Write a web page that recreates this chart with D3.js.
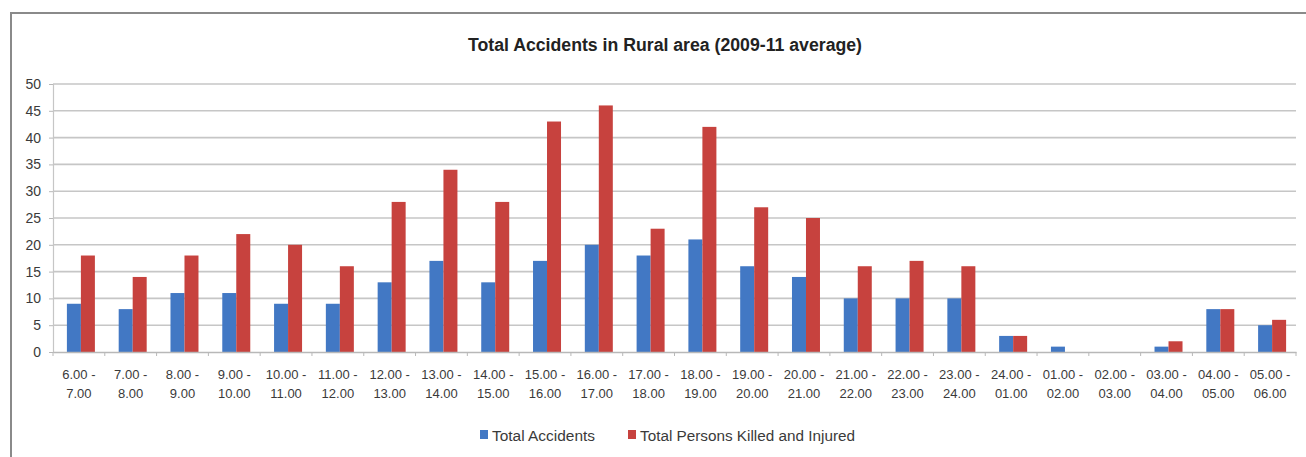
<!DOCTYPE html>
<html>
<head>
<meta charset="utf-8">
<script src="https://cdn.jsdelivr.net/npm/d3@7"></script>
<style>
  html, body { margin: 0; padding: 0; background: #ffffff; }
  svg { display: block; }
</style>
</head>
<body>
<svg id="chart" width="1306" height="457"></svg>
<script>
const title = "Total Accidents in Rural area (2009-11 average)";
const categories = [
  "6.00 - 7.00", "7.00 - 8.00", "8.00 - 9.00", "9.00 - 10.00", "10.00 - 11.00",
  "11.00 - 12.00", "12.00 - 13.00", "13.00 - 14.00", "14.00 - 15.00", "15.00 - 16.00",
  "16.00 - 17.00", "17.00 - 18.00", "18.00 - 19.00", "19.00 - 20.00", "20.00 - 21.00",
  "21.00 - 22.00", "22.00 - 23.00", "23.00 - 24.00", "24.00 - 01.00", "01.00 - 02.00",
  "02.00 - 03.00", "03.00 - 04.00", "04.00 - 05.00", "05.00 - 06.00"
];
const seriesNames = ["Total Accidents", "Total Persons Killed and Injured"];
const totalAccidents = [9, 8, 11, 11, 9, 9, 13, 17, 13, 17, 20, 18, 21, 16, 14, 10, 10, 10, 3, 1, 0, 1, 8, 5];
const totalKilledInjured = [18, 14, 18, 22, 20, 16, 28, 34, 28, 43, 46, 23, 42, 27, 25, 16, 17, 16, 3, 0, 0, 2, 8, 6];
const yTicks = [0, 5, 10, 15, 20, 25, 30, 35, 40, 45, 50];
const colors = ["#4278c4", "#c7423e"];

(function () {
const svg = d3.select("#chart");
const font = "'Liberation Sans Narrow', 'Arial Narrow', 'Liberation Sans', sans-serif";

// outer frame (top and left borders)
svg.append("line").attr("x1", 10).attr("x2", 1306).attr("y1", 13).attr("y2", 13)
  .attr("stroke", "#8a8a8a").attr("stroke-width", 2);
svg.append("line").attr("x1", 11).attr("x2", 11).attr("y1", 13).attr("y2", 457)
  .attr("stroke", "#8a8a8a").attr("stroke-width", 2);

const mLeft = 53, mRight = 1296, mTop = 84, mBottom = 352;

const x0 = d3.scaleBand().domain(categories).range([mLeft, mRight]).paddingInner(0).paddingOuter(0);
const x1 = d3.scaleBand().domain(seriesNames).range([0, x0.bandwidth()]).paddingInner(0).paddingOuter(0.85);
const y = d3.scaleLinear().domain([0, 50]).range([mBottom, mTop]);

// gridlines
svg.append("g").selectAll("line").data(yTicks.filter(d => d > 0)).join("line")
  .attr("x1", mLeft).attr("x2", mRight)
  .attr("y1", d => y(d)).attr("y2", d => y(d))
  .attr("stroke", "#c6c6c6").attr("stroke-width", 1.6);

// y axis
const yAxis = d3.axisLeft(y).tickValues(yTicks).tickSize(4).tickPadding(8);
const gy = svg.append("g").attr("transform", `translate(${mLeft},0)`).call(yAxis);
gy.select(".domain").attr("stroke", "#c6c6c6").attr("stroke-width", 1.2);
gy.selectAll(".tick line").attr("stroke", "#b8b8b8");
gy.selectAll(".tick text").attr("font-family", font).attr("font-size", 14).attr("fill", "#3a3a3a");

// bars
const data = categories.map((c, i) => ({ cat: c, vals: [totalAccidents[i], totalKilledInjured[i]] }));
const groups = svg.append("g").selectAll("g").data(data).join("g")
  .attr("transform", d => `translate(${x0(d.cat) + 2},0)`);
groups.selectAll("rect").data(d => d.vals.map((v, k) => ({ v, k }))).join("rect")
  .attr("x", d => x1(seriesNames[d.k]))
  .attr("width", x1.bandwidth())
  .attr("y", d => y(d.v))
  .attr("height", d => y(0) - y(d.v))
  .attr("fill", d => colors[d.k]);

// x axis
const xAxis = d3.axisBottom(x0).tickSize(0).tickFormat("");
const gx = svg.append("g").attr("transform", `translate(0,${mBottom})`).call(xAxis);
gx.select(".domain").attr("stroke", "#b8b8b8").attr("stroke-width", 1.4);
// tick marks at category boundaries
svg.append("g").selectAll("line").data(categories.concat(["__end"])).join("line")
  .attr("x1", (d, i) => mLeft + i * x0.step())
  .attr("x2", (d, i) => mLeft + i * x0.step())
  .attr("y1", mBottom).attr("y2", mBottom + 4)
  .attr("stroke", "#b8b8b8");

// x labels (two lines)
const lbl = svg.append("g").selectAll("text").data(categories).join("text")
  .attr("text-anchor", "middle")
  .attr("font-family", font).attr("font-size", 13).attr("fill", "#3a3a3a")
  .attr("transform", d => `translate(${x0(d) + x0.bandwidth() / 2},0)`);
lbl.append("tspan").attr("x", 0).attr("y", 379).text(d => d.split(" - ")[0] + " -");
lbl.append("tspan").attr("x", 0).attr("y", 398).text(d => d.split(" - ")[1]);

// title
svg.append("text").attr("x", 665).attr("y", 51).attr("text-anchor", "middle")
  .attr("font-family", font).attr("font-weight", "bold").attr("font-size", 18)
  .attr("fill", "#222").attr("textLength", 394).attr("lengthAdjust", "spacingAndGlyphs")
  .text(title);

// legend
const legendX = [480, 628];
const legendW = [103, 215];
const lg = svg.append("g").selectAll("g").data(seriesNames).join("g")
  .attr("transform", (d, i) => `translate(${legendX[i]},0)`);
lg.append("rect").attr("x", 0).attr("y", 430).attr("width", 8).attr("height", 9)
  .attr("fill", (d, i) => colors[i]);
lg.append("text").attr("x", 12).attr("y", 441)
  .attr("font-family", font).attr("font-size", 14).attr("fill", "#3a3a3a")
  .attr("textLength", (d, i) => legendW[i]).attr("lengthAdjust", "spacingAndGlyphs")
  .text(d => d);
})();
</script>
</body>
</html>
